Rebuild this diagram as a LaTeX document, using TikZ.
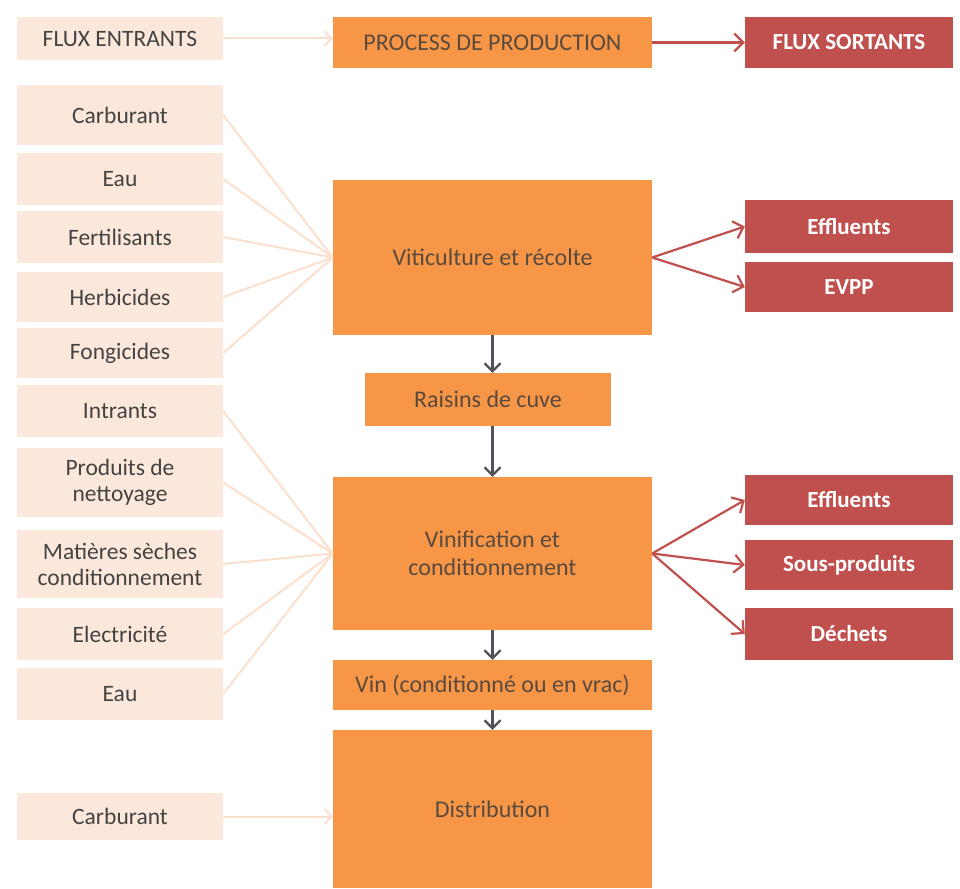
\documentclass[tikz,border=0pt]{standalone}
\usepackage{fontspec}
\setmainfont{Carlito}
\usetikzlibrary{arrows.meta}
\definecolor{peach}{HTML}{FCE8DA}
\definecolor{orangeproc}{HTML}{F79646}
\definecolor{redout}{HTML}{C0504D}
\definecolor{lightline}{HTML}{FCE0CE}
\definecolor{textgray}{HTML}{434343}
\definecolor{textbrown}{HTML}{5A4A3E}
\definecolor{downgray}{HTML}{4F5358}
\tikzset{
  inbox/.style={fill=peach, text=textgray, minimum width=206pt, inner sep=0pt, align=center, font=\fontsize{23.5}{26}\selectfont},
  procbox/.style={fill=orangeproc, text=textbrown, minimum width=319pt, inner sep=0pt, align=center, font=\fontsize{24}{28}\selectfont},
  outbox/.style={fill=redout, text=white, minimum width=208pt, inner sep=0pt, align=center, font=\fontsize{23}{26}\selectfont\bfseries},
  feed/.style={lightline, line width=2pt},
  feedarrow/.style={lightline, line width=2pt, -{Straight Barb[length=7pt,width=15pt]}},
  outarrow/.style={redout, line width=2.2pt, -{Straight Barb[length=9pt,width=18pt]}},
  downarrow/.style={downgray, line width=2.2pt, -{Straight Barb[length=8pt,width=16pt]}}
}
\begin{document}
\begin{tikzpicture}[x=1pt,y=-1pt]
\useasboundingbox[fill=white] (0,0) rectangle (960,888);

\node[inbox, minimum height=43pt] (fluxin) at (120,38.5) {FLUX ENTRANTS};
\node[inbox, minimum height=60pt] (carb1) at (120,115) {Carburant};
\node[inbox, minimum height=52pt] (eau1) at (120,179) {Eau};
\node[inbox, minimum height=52pt] (fert) at (120,237) {Fertilisants};
\node[inbox, minimum height=50pt] (herb) at (120,297) {Herbicides};
\node[inbox, minimum height=50pt] (fong) at (120,353) {Fongicides};
\node[inbox, minimum height=52pt] (intr) at (120,411) {Intrants};
\node[inbox, minimum height=69pt] (prod) at (120,482.5) {Produits de\\nettoyage};
\node[inbox, minimum height=68pt] (mat) at (120,564) {Matières sèches\\conditionnement};
\node[inbox, minimum height=52pt] (elec) at (120,634) {Electricité};
\node[inbox, minimum height=52pt] (eau2) at (120,694) {Eau};
\node[inbox, minimum height=47pt] (carb2) at (120,816.5) {Carburant};

\node[procbox, minimum height=51pt] (proc) at (492.5,42.5) {PROCESS DE PRODUCTION};
\node[procbox, minimum height=155pt] (vitic) at (492.5,257.5) {Viticulture et récolte};
\node[procbox, minimum width=246pt, minimum height=53pt] (raisins) at (488,399.5) {Raisins de cuve};
\node[procbox, minimum height=153pt] (vinif) at (492.5,553.5) {Vinification et\\conditionnement};
\node[procbox, minimum height=50pt] (vin) at (492.5,685) {Vin (conditionné ou en vrac)};
\node[procbox, minimum height=158pt] (distr) at (492.5,809) {Distribution};

\node[outbox, minimum height=51pt] (fluxout) at (849,42.5) {FLUX SORTANTS};
\node[outbox, minimum height=53pt] (eff1) at (849,226.5) {Effluents};
\node[outbox, minimum height=50pt] (evpp) at (849,287) {EVPP};
\node[outbox, minimum height=50pt] (eff2) at (849,500) {Effluents};
\node[outbox, minimum height=50pt] (sousp) at (849,565) {Sous-produits};
\node[outbox, minimum height=52pt] (dech) at (849,634) {Déchets};

\draw[feedarrow] (fluxin.east) -- (fluxin.east -| proc.west);
\foreach \n in {carb1,eau1,fert,herb,fong}
  \draw[feed] (\n.east) -- (vitic.west);
\foreach \n in {intr,prod,mat,elec,eau2}
  \draw[feed] (\n.east) -- (vinif.west);
\draw[feedarrow] (carb2.east) -- (carb2.east -| distr.west);

\draw[outarrow] (proc.east) -- (fluxout.west);
\draw[outarrow] (vitic.east) -- (eff1.west);
\draw[outarrow] (vitic.east) -- (evpp.west);
\draw[outarrow] (vinif.east) -- (eff2.west);
\draw[outarrow] (vinif.east) -- (sousp.west);
\draw[outarrow] (vinif.east) -- (dech.west);

\draw[downarrow] (vitic.south) -- (vitic.south |- raisins.north);
\draw[downarrow] (vitic.south |- raisins.south) -- (vinif.north);
\draw[downarrow] (vinif.south) -- (vin.north);
\draw[downarrow] (vin.south) -- (distr.north);
\end{tikzpicture}
\end{document}
